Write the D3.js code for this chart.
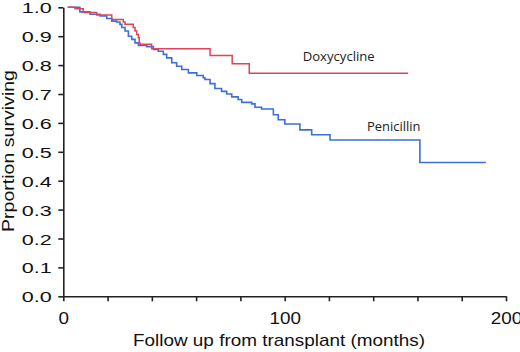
<!DOCTYPE html>
<html>
<head>
<meta charset="utf-8">
<script src="https://cdn.jsdelivr.net/npm/d3@7"></script>
<style>
    html, body { margin: 0; padding: 0; background: #fff; }
    #km-chart { width: 520px; height: 352px; }
</style>
</head>
<body>
<div id="km-chart"></div>
<script>
// Kaplan-Meier estimates (months, proportion surviving)
const doxyTimes = [2, 5.3, 9, 15.1, 21.9, 27.1, 27.9, 31.6, 32.4, 33.2, 33.9, 34.3, 34.6, 39.9, 66.3, 76.3, 84];
const doxySurv  = [1.0, 0.995, 0.982, 0.973, 0.958, 0.949, 0.941, 0.93, 0.918, 0.906, 0.895, 0.877, 0.872, 0.857, 0.833, 0.805, 0.772];
const doxyEnd = 155.8;

const peniTimes = [2, 7.5, 12.1, 16.6, 19.6, 21.9, 24.1, 25.6, 26.4, 27.9, 29.4, 30.9, 32.4, 33.9, 37.7, 40.7, 42.9,
    45.2, 46.7, 49, 51.2, 53.5, 56.5, 60.3, 63.2, 64, 66.3, 68.5, 71.5, 73.8, 76.1, 79, 80.6, 85.1, 86.6, 89.6,
    94.9, 97.1, 100.1, 106.9, 112.2, 120.5, 161.1];
const peniSurv = [1.0, 0.984, 0.976, 0.97, 0.961, 0.952, 0.949, 0.941, 0.93, 0.918, 0.9, 0.889, 0.877, 0.868, 0.864, 0.854, 0.848,
    0.837, 0.825, 0.808, 0.796, 0.785, 0.773, 0.764, 0.756, 0.75, 0.736, 0.719, 0.709, 0.7, 0.69, 0.681, 0.671, 0.666, 0.654, 0.648,
    0.628, 0.611, 0.596, 0.576, 0.559, 0.541, 0.463];
const peniEnd = 190.9;

const yTicks = [0, 0.1, 0.2, 0.3, 0.4, 0.5, 0.6, 0.7, 0.8, 0.9, 1.0];
const xMinorTicks = [0, 20, 40, 60, 80, 100, 120, 140, 160, 180, 200];
const xTickLabels = [0, 100, 200];

const width = 520, height = 352;
const x = d3.scaleLinear().domain([0, 200]).range([63.3, 506]);
const y = d3.scaleLinear().domain([0, 1]).range([296.3, 7.3]);

const svg = d3.select("#km-chart").append("svg")
    .attr("width", width)
    .attr("height", height)
    .style("font-family", "'Liberation Sans', Arial, sans-serif");

// build step series
function toSteps(times, surv, end) {
    const pts = times.map((t, i) => ({ t: t, s: surv[i] }));
    pts.push({ t: end, s: surv[surv.length - 1] });
    return pts;
}

const line = d3.line()
    .x(d => x(d.t))
    .y(d => y(d.s))
    .curve(d3.curveStepAfter);

svg.append("path")
    .datum(toSteps(peniTimes, peniSurv, peniEnd))
    .attr("fill", "none")
    .attr("stroke", "#3d6fd6")
    .attr("stroke-width", 1.6)
    .attr("d", line);

svg.append("path")
    .datum(toSteps(doxyTimes, doxySurv, doxyEnd))
    .attr("fill", "none")
    .attr("stroke", "#de4556")
    .attr("stroke-width", 1.5)
    .attr("d", line);

// Y axis
const yAxis = svg.append("g")
    .attr("transform", `translate(${x(0)},0)`)
    .call(d3.axisLeft(y).tickValues(yTicks).tickSize(5).tickSizeOuter(0).tickFormat(d3.format(".1f")));

yAxis.selectAll("text")
    .attr("x", -11.5)
    .attr("dy", "0.36em")
    .attr("font-size", "15.5px")
    .attr("fill", "#111")
    .attr("textLength", 30)
    .attr("lengthAdjust", "spacingAndGlyphs");

// X axis (ticks every 20, labels at 0/100/200)
const xAxis = svg.append("g")
    .attr("transform", `translate(0,${y(0)})`)
    .call(d3.axisBottom(x).tickValues(xMinorTicks).tickSize(5).tickSizeOuter(0)
        .tickFormat(d => xTickLabels.includes(d) ? d : ""));

xAxis.selectAll("text")
    .attr("y", 16)
    .attr("dy", "0.71em")
    .attr("font-size", "17px")
    .attr("fill", "#111")
    .filter(d => xTickLabels.includes(d))
    .attr("textLength", d => String(d).length * 10.5)
    .attr("lengthAdjust", "spacingAndGlyphs");

svg.selectAll(".domain, .tick line")
    .attr("stroke", "#222")
    .attr("stroke-width", 1.6);

// axis titles
svg.append("text")
    .attr("x", 279)
    .attr("y", 345.5)
    .attr("text-anchor", "middle")
    .attr("font-size", "17px")
    .attr("fill", "#111")
    .attr("textLength", 292)
    .attr("lengthAdjust", "spacingAndGlyphs")
    .text("Follow up from transplant (months)");

svg.append("text")
    .attr("transform", "translate(13.5,151) rotate(-90)")
    .attr("text-anchor", "middle")
    .attr("font-size", "17px")
    .attr("fill", "#111")
    .attr("textLength", 162)
    .attr("lengthAdjust", "spacingAndGlyphs")
    .text("Prportion surviving");

// series labels
svg.append("text")
    .attr("x", 302.7)
    .attr("y", 60.5)
    .attr("font-family", "'Open Sans', sans-serif")
    .attr("font-size", "13px")
    .attr("fill", "#222")
    .attr("textLength", 72)
    .attr("lengthAdjust", "spacingAndGlyphs")
    .text("Doxycycline");

svg.append("text")
    .attr("x", 367)
    .attr("y", 130.5)
    .attr("font-family", "'Open Sans', sans-serif")
    .attr("font-size", "13px")
    .attr("fill", "#222")
    .attr("textLength", 53.5)
    .attr("lengthAdjust", "spacingAndGlyphs")
    .text("Penicillin");
</script>
</body>
</html>
